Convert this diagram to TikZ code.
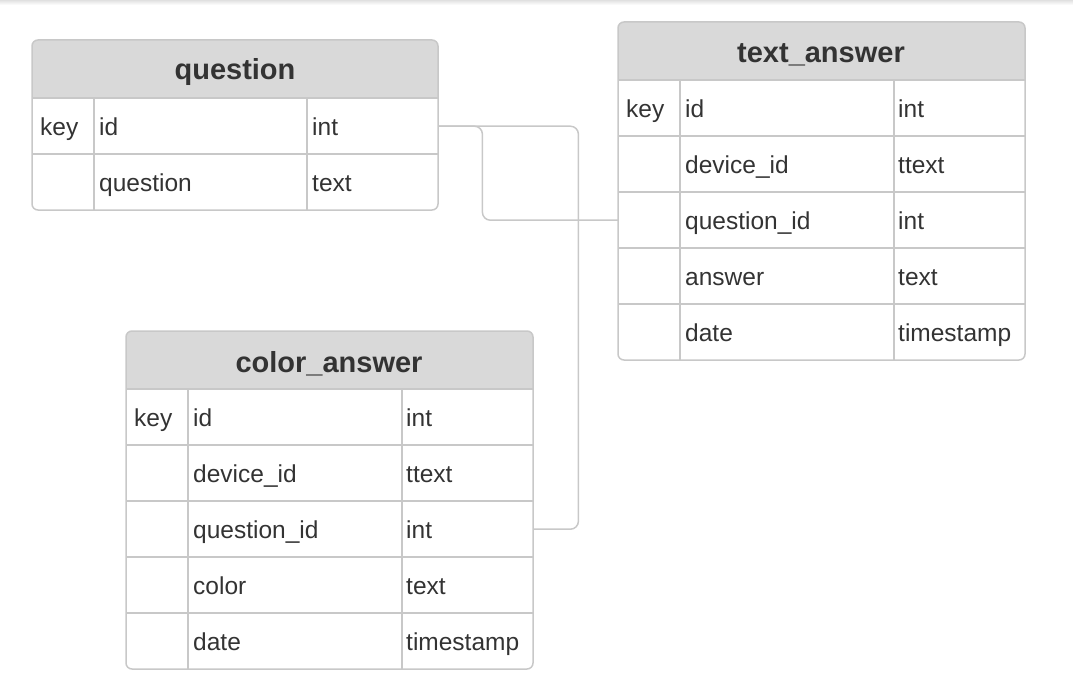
\documentclass[tikz,border=0pt]{standalone}
\usepackage{fontspec}
\setmainfont{Liberation Sans}
\usetikzlibrary{positioning}

\definecolor{hdrgray}{HTML}{D9D9D9}
\definecolor{linegray}{HTML}{C8C8C8}
\definecolor{txtgray}{HTML}{333333}

\tikzset{
  grid/.style={draw=linegray, line width=1.5pt},
  row/.style={minimum width=406pt, minimum height=56pt, inner sep=0pt, anchor=north west},
  cell/.style={anchor=west, inner sep=0pt, text height=18pt, text depth=0pt, text=txtgray,
    font=\fontsize{24.5}{28}\selectfont},
  title/.style={inner sep=0pt, text height=22pt, text depth=0pt, text=txtgray,
    font=\bfseries\fontsize{29}{32}\selectfont},
  link/.style={draw=linegray, line width=1.5pt, rounded corners=8pt},
}

\begin{document}
\begin{tikzpicture}[x=1pt, y=-1pt]
\useasboundingbox (0,0) rectangle (1073,698);
\shade[top color=black!12, bottom color=white] (0,0) rectangle (1073,5);

% question
\fill[hdrgray] (32,98) [rounded corners=6pt] -- (32,40) -- (438,40) [sharp corners] -- (438,98) -- cycle;
\node[title] (q-title) at (235,69) {question};
\foreach \nm/\ty [count=\i] in {id/int, question/text} {
  \node[row] (q-r\i) at (32,{98+56*(\i-1)}) {};
  \draw[grid] (q-r\i.north west) -- (q-r\i.north east);
  \node[cell] (q-n\i) at ([xshift=67pt]q-r\i.west) {\nm};
  \node[cell] (q-t\i) at ([xshift=280pt]q-r\i.west) {\ty};
}
\node[cell] (q-key) at ([xshift=8pt]q-r1.west) {key};
\draw[grid] (94,98) -- (94,210);
\draw[grid] (307,98) -- (307,210);
\draw[grid, rounded corners=6pt] (32,40) rectangle (438,210);

% text_answer
\fill[hdrgray] (618,80) [rounded corners=6pt] -- (618,22) -- (1025,22) [sharp corners] -- (1025,80) -- cycle;
\node[title] (t-title) at (821,52) {text\_answer};
\foreach \nm/\ty [count=\i] in {id/int, device\_id/ttext, question\_id/int, answer/text, date/timestamp} {
  \node[row, minimum width=407pt] (t-r\i) at (618,{80+56*(\i-1)}) {};
  \draw[grid] (t-r\i.north west) -- (t-r\i.north east);
  \node[cell] (t-n\i) at ([xshift=67pt]t-r\i.west) {\nm};
  \node[cell] (t-t\i) at ([xshift=280pt]t-r\i.west) {\ty};
}
\node[cell] (t-key) at ([xshift=8pt]t-r1.west) {key};
\draw[grid] (680,80) -- (680,360);
\draw[grid] (894,80) -- (894,360);
\draw[grid, rounded corners=6pt] (618,22) rectangle (1025,360);

% color_answer
\fill[hdrgray] (126,389) [rounded corners=6pt] -- (126,331) -- (533,331) [sharp corners] -- (533,389) -- cycle;
\node[title] (c-title) at (329,361) {color\_answer};
\foreach \nm/\ty [count=\i] in {id/int, device\_id/ttext, question\_id/int, color/text, date/timestamp} {
  \node[row, minimum width=407pt] (c-r\i) at (126,{389+56*(\i-1)}) {};
  \draw[grid] (c-r\i.north west) -- (c-r\i.north east);
  \node[cell] (c-n\i) at ([xshift=67pt]c-r\i.west) {\nm};
  \node[cell] (c-t\i) at ([xshift=280pt]c-r\i.west) {\ty};
}
\node[cell] (c-key) at ([xshift=8pt]c-r1.west) {key};
\draw[grid] (188,389) -- (188,669);
\draw[grid] (402,389) -- (402,669);
\draw[grid, rounded corners=6pt] (126,331) rectangle (533,669);

% links
\draw[link] (q-r1.east) -- ++(44,0) |- (t-r3.west);
\draw[link] (q-r1.east) -- ++(140,0) |- (c-r3.east);
\end{tikzpicture}
\end{document}
